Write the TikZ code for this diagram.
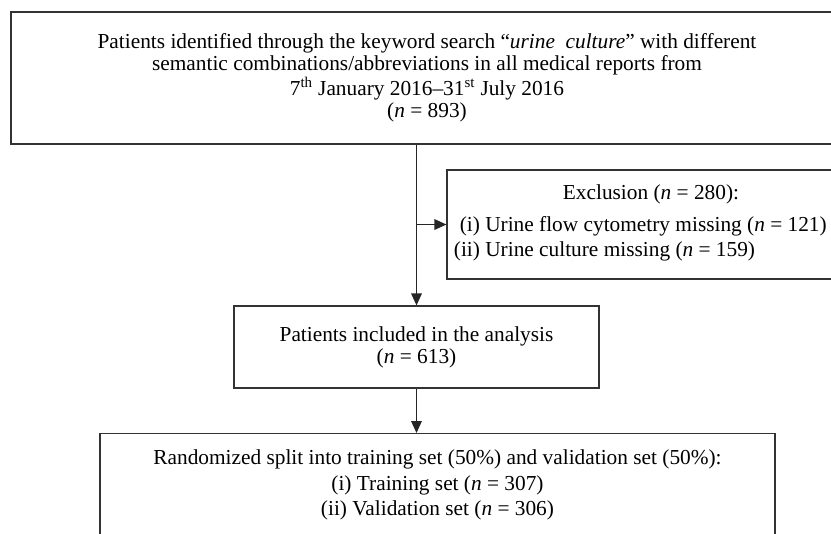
\documentclass[tikz,border=0pt]{standalone}
\usepackage{fontspec}
\setmainfont{Liberation Serif}
\usetikzlibrary{arrows.meta}
\begin{document}
\begin{tikzpicture}[x=0.75pt,y=-0.75pt,%
        every node/.style={font=\fontsize{16}{16.5}\selectfont},
        box/.style={draw=black!80,line width=0.9pt,align=center,inner
          sep=0pt},%
        flow/.style={draw=black!85,line width=0.9pt,
          -{Triangle[length=9pt,width=8pt]}}]%
        \useasboundingbox (0,0) rectangle (831,533);
        \clip (0,0) rectangle (831,533);
        % the boxes
        \node[box,minimum width=624pt,minimum height=99pt] (found) at
        (427,78) {Patients identified through the keyword search
          “\textit{urine\ \ culture}” with different\\ semantic
          combinations/abbreviations in all medical reports from\\
          7\textsuperscript{th} January 2016–31\textsuperscript{st} July
          2016\\ (\textit{n} = 893)};
        \node[box,minimum width=306pt,minimum height=81.75pt,
        font=\fontsize{16}{17}\selectfont] (excl) at (651,224.5)
        {Exclusion (\textit{n} = 280):\\[7pt]
          \renewcommand\arraystretch{1.1}\begin{tabular}[t]{@{}r@{ }l@{}}
            (i) & Urine flow cytometry missing (\textit{n} = 121)\\ (ii) &
            Urine culture missing (\textit{n} = 159)\end{tabular}%
          \hspace*{16pt}};
        \node[box,minimum width=273.75pt,minimum height=61.5pt] (incl) at
        (416.5,347) {Patients included in the analysis\\ (\textit{n} =
          613)};
        \node[box,minimum width=506.25pt,anchor=north,inner ysep=12.25pt,
        text depth=60pt,font=\fontsize{16}{19}\selectfont] (split) at
        (437.5,433) {Randomized split into training set (50\%) and
          validation set (50\%):\\ (i) Training set (\textit{n} = 307)\\
          (ii) Validation set (\textit{n} = 306)};
        % the arrows
        \draw[flow] (incl.north |- found.south) -- (incl.north);
        \draw[flow] (incl.north |- excl.west) -- (excl.west);
        \draw[flow] (incl.south) -- (incl.south |- split.north);
      \end{tikzpicture}
\end{document}
